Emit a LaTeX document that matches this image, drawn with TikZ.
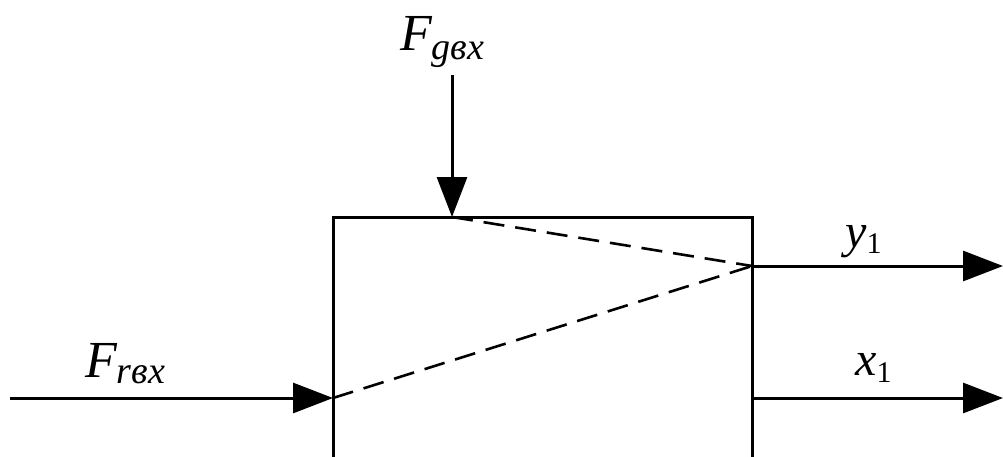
\documentclass[tikz,border=0pt]{standalone}
\usepackage{fontspec}
\setmainfont{Liberation Serif}
\usetikzlibrary{arrows.meta}
\begin{document}
\begin{tikzpicture}[x=1pt,y=-1pt,
  wire/.style={line width=3pt},
  arr/.style={wire,-{Triangle[length=40pt,width=30pt]}},
  dashline/.style={line width=2.6pt,dash pattern=on 21pt off 11pt},
  biglbl/.style={anchor=base west,inner sep=0pt,font=\itshape\fontsize{52}{52}\selectfont},
  outlbl/.style={anchor=base west,inner sep=0pt,font=\itshape\fontsize{48}{48}\selectfont}]
\useasboundingbox (0,0) rectangle (1003,456);
% coordinates
\coordinate (topStart) at (452,75);
\coordinate (topIn) at (452,217);
\coordinate (leftStart) at (10,398);
\coordinate (leftIn) at (333,398);
\coordinate (boxTL) at (333,217);
\coordinate (boxTR) at (752,217);
\coordinate (boxBL) at (333,460);
\coordinate (boxBR) at (752,460);
\coordinate (y1Out) at (752,266);
\coordinate (y1End) at (1003,266);
\coordinate (x1Out) at (752,398);
\coordinate (x1End) at (1003,398);
% box (bottom cut off)
\draw[wire] (boxBL) -- (boxTL) -- (boxTR) -- (boxBR);
% arrows
\draw[arr] (topStart) -- (topIn);
\draw[arr] (leftStart) -- (leftIn);
\draw[arr] (y1Out) -- (y1End);
\draw[arr] (x1Out) -- (x1End);
% dashed lines
\draw[dashline] (topIn) -- (y1Out);
\draw[dashline] (leftIn) -- (y1Out);
% labels
\node[biglbl] (Fg) at (400,50) {F\raisebox{-9pt}{\fontsize{38}{38}\selectfont gвx}};
\node[biglbl] (Fr) at (85,377) {F\raisebox{-6pt}{\fontsize{38}{38}\selectfont rвx}};
\node[outlbl] (ylab) at (845,247) {y\raisebox{-6pt}{\upshape\fontsize{30}{30}\selectfont 1}};
\node[outlbl] (xlab) at (855,375) {x\raisebox{-7pt}{\upshape\fontsize{30}{30}\selectfont 1}};
\end{tikzpicture}
\end{document}
